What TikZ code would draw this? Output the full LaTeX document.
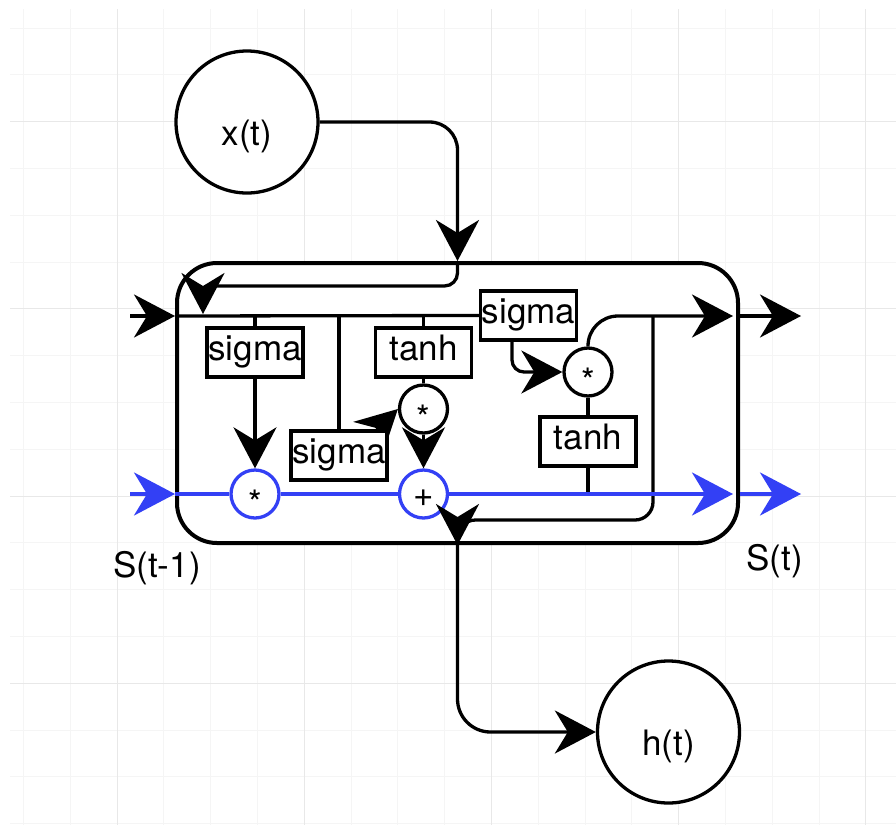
\documentclass[tikz,border=0pt]{standalone}
\usepackage{fontspec}
\setmainfont{TeX Gyre Heros}
\usepackage{tikz}
\usetikzlibrary{arrows.meta, calc}
\pgfdeclarelayer{bg}
\pgfsetlayers{bg,main}
\definecolor{cellblue}{RGB}{51,64,245}

\begin{document}
\begin{tikzpicture}[x=1pt, y=-1pt,
  >={Stealth[length=41pt, width=43pt, inset=13pt]},
  wire/.style={line width=3.3pt},
  txt/.style={font=\fontsize{35}{40}\selectfont, inner sep=0pt, text depth=0pt},
  gate/.style={txt, wire, draw, fill=white, minimum width=96pt, minimum height=49pt, text height=16pt},
  io/.style={txt, wire, draw, fill=white, circle, minimum size=142pt, text height=46pt},
  op/.style={txt, wire, draw, fill=white, circle, minimum size=48pt},
  mul/.style={op, text height=43pt},
  add/.style={op, text height=24pt},
  stateline/.style={draw=cellblue}]
  \useasboundingbox (0,0) rectangle (896,825);
  \begin{pgfonlayer}{bg}
    \fill[white] (0,0) rectangle (896,825);
    % Grid
    \foreach \k in {0,...,18}
      \draw[gray!8, line width=1pt] ({23.5+46.8*\k},9) -- ({23.5+46.8*\k},825);
    \foreach \k in {0,...,17}
      \draw[gray!8, line width=1pt] (10,{28+46.8*\k}) -- (896,{28+46.8*\k});
    \foreach \k in {2,6,10,14,18}
      \draw[gray!18, line width=1pt] ({23.5+46.8*\k},9) -- ({23.5+46.8*\k},825);
    \foreach \k in {2,6,10,14}
      \draw[gray!18, line width=1pt] (10,{28+46.8*\k}) -- (896,{28+46.8*\k});
    % Cell
    \node[draw, fill=white, line width=4pt, rounded corners=40pt, minimum width=561pt, minimum height=280pt] (cell) at (457.5,403) {};
  \end{pgfonlayer}

  \begin{scope}[wire]
  % Input and output
  \node[io] (xt) at (247,122) {x(t)};
  \node[io] (ht) at (668.5,732) {h(t)};
  \node[txt, anchor=base] (sprev) at (157,577) {S(t-1)};
  \node[txt, anchor=base] (snext) at (774.5,570) {S(t)};

  % Gates
  \foreach \n/\x/\y/\t in {sg1/255/352.5/sigma, th1/423.5/352.5/tanh, sg2/339/455.5/sigma, sg3/528.5/315.5/sigma, th2/588/441.5/tanh}
    \node[gate] (\n) at (\x,\y) {\t};

  % Pointwise operations
  \node[mul, stateline] (mf) at (255,494) {*};
  \node[add, stateline] (ad) at (423.5,494) {+};
  \node[mul] (mi) at (423.5,409) {*};
  \node[mul] (mo) at (588,372) {*};

  \coordinate (hin) at (130,316);
  \coordinate (sin) at (130,494);
  \coordinate (hend) at (733,316);
  \coordinate (send) at (733,494);
  \coordinate (hout) at (801,316);
  \coordinate (sout) at (801,494);
  \coordinate (ft) at (203,314);
  \coordinate (hj) at (653,316);

  % Hidden state line
  \draw[->] (hin) -- (hin -| cell.west);
  \draw (hin -| cell.west) -- (sg3.west);
  \foreach \n in {sg1, sg2, th1}
    \draw (\n.north |- hin) -- (\n.north);
  \draw[->, rounded corners=28pt] (xt.east) -| (cell.north);
  \draw[->, rounded corners=13pt] (cell.north) -- ++(0,25) -| (ft);

  % Gate connections
  \draw[->] (sg1) -- (mf);
  \draw (th1) -- (mi);
  \draw[->] (mi) -- (ad);
  \draw[->, rounded corners=12pt] ([xshift=-16.5pt]sg3.south) |- (mo.west);
  \draw (mo) -- (th2);
  \draw (th2.south) -- (th2.south |- sin);
  \draw[->, rounded corners=30pt] (mo.north) |- (hend);
  \draw[->] (hend -| cell.east) -- (hout);

  % Output h(t)
  \draw[->, rounded corners=18pt] (hj) -- (hj |- 0,520) -| (cell.south);
  \draw[->, rounded corners=33pt] (cell.south) |- (ht.west);

  % Cell state line
  \draw[->, stateline] (sin) -- (sin -| cell.west);
  \draw[stateline] (sin -| cell.west) -- (mf);
  \draw[stateline] (mf) -- (ad);
  \draw[->, stateline] (ad) -- (send);
  \draw[->, stateline] (send -| cell.east) -- (sout);
  \end{scope}

  % Arrow behind the lower sigma
  \begin{pgfonlayer}{bg}
    \draw[->, wire] ([xshift=-12pt]sg2.north east) -- (mi.west);
  \end{pgfonlayer}
\end{tikzpicture}
\end{document}
